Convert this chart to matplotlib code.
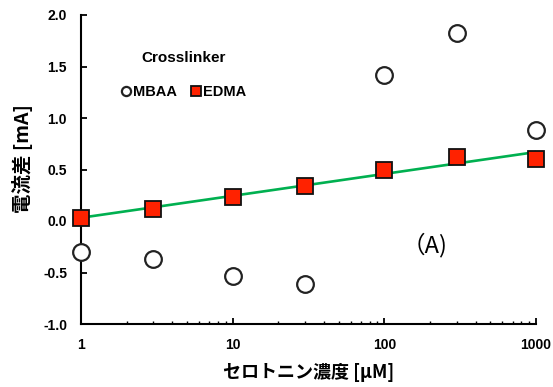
import numpy as np
import matplotlib
matplotlib.use('Agg')
import matplotlib.pyplot as plt
from matplotlib.ticker import FixedLocator, FixedFormatter, LogLocator, NullFormatter

plt.rcParams['font.family'] = ['Liberation Sans', 'Noto Sans CJK JP', 'DejaVu Sans']

# データ
conc = [1, 3, 10, 30, 100, 300, 1000]          # セロトニン濃度 [uM]
mbaa = [-0.30, -0.37, -0.53, -0.61, 1.42, 1.83, 0.88]
edma = [0.03, 0.12, 0.23, 0.34, 0.50, 0.62, 0.60]
xticks = [1, 10, 100, 1000]
yticks = [-1.0, -0.5, 0.0, 0.5, 1.0, 1.5, 2.0]

fig = plt.figure(figsize=(5.53, 3.87), dpi=100)
ax = fig.add_axes([81/553, 1 - 324/387, (536 - 81)/553, (324 - 15)/387])

# 近似直線 (log x)
coef = np.polyfit(np.log10(conc), edma, 1)
xl = np.array([1, 1000])
ax.plot(xl, coef[0]*np.log10(xl) + coef[1], color='#00b050', lw=1.9, zorder=2)

ax.plot(conc, mbaa, 'o', ms=12, mfc='white', mec='#222222', mew=1.6,
        label='MBAA', zorder=3, clip_on=False)
ax.plot(conc, edma, 's', ms=12, mfc='#ff2200', mec='#111111', mew=1.3,
        label='EDMA', zorder=4, clip_on=False)

ax.set_xscale('log')
ax.set_xlim(1, 1000)
ax.set_ylim(-1.0, 2.0)
ax.xaxis.set_major_locator(FixedLocator(xticks))
ax.xaxis.set_major_formatter(FixedFormatter([str(v) for v in xticks]))
ax.xaxis.set_minor_locator(LogLocator(base=10, subs=np.arange(2, 10)))
ax.xaxis.set_minor_formatter(NullFormatter())
ax.set_yticks(yticks)
ax.set_yticklabels([f'{v:.1f}' for v in yticks])

for s in ['top', 'right']:
    ax.spines[s].set_visible(False)
for s in ['left', 'bottom']:
    ax.spines[s].set_linewidth(1.5)
ax.tick_params(axis='both', which='major', direction='in', length=4, width=1.3,
               labelsize=10, pad=10)
ax.tick_params(axis='x', which='minor', direction='in', length=2.5, width=1.0)
for lab in ax.get_xticklabels() + ax.get_yticklabels():
    lab.set_fontweight('bold')

ax.set_xlabel('セロトニン濃度 [µM]', fontsize=13, fontweight='bold',
              family=['Noto Sans CJK JP', 'DejaVu Sans'], labelpad=8)
ax.set_ylabel('電流差 [mA]', fontsize=14, fontweight='bold',
              family=['Noto Sans CJK JP', 'DejaVu Sans'])
ax.yaxis.set_label_coords(-0.105, 0.537)

leg = ax.legend(loc='upper left', bbox_to_anchor=(0.06, 0.925), ncol=2,
                frameon=False, markerscale=0.55, handlelength=0.6,
                handletextpad=0.2, columnspacing=1.0,
                title='Crosslinker', prop={'weight': 'bold', 'size': 10.5})
leg.get_title().set_fontweight('bold')
leg.get_title().set_fontsize(11)
leg._legend_box.sep = 14

ax.text(185, -0.23, '（A)', fontsize=17, ha='center', va='center',
        family=['Noto Sans CJK JP', 'DejaVu Sans'])

fig.savefig('out.png', dpi=100)
